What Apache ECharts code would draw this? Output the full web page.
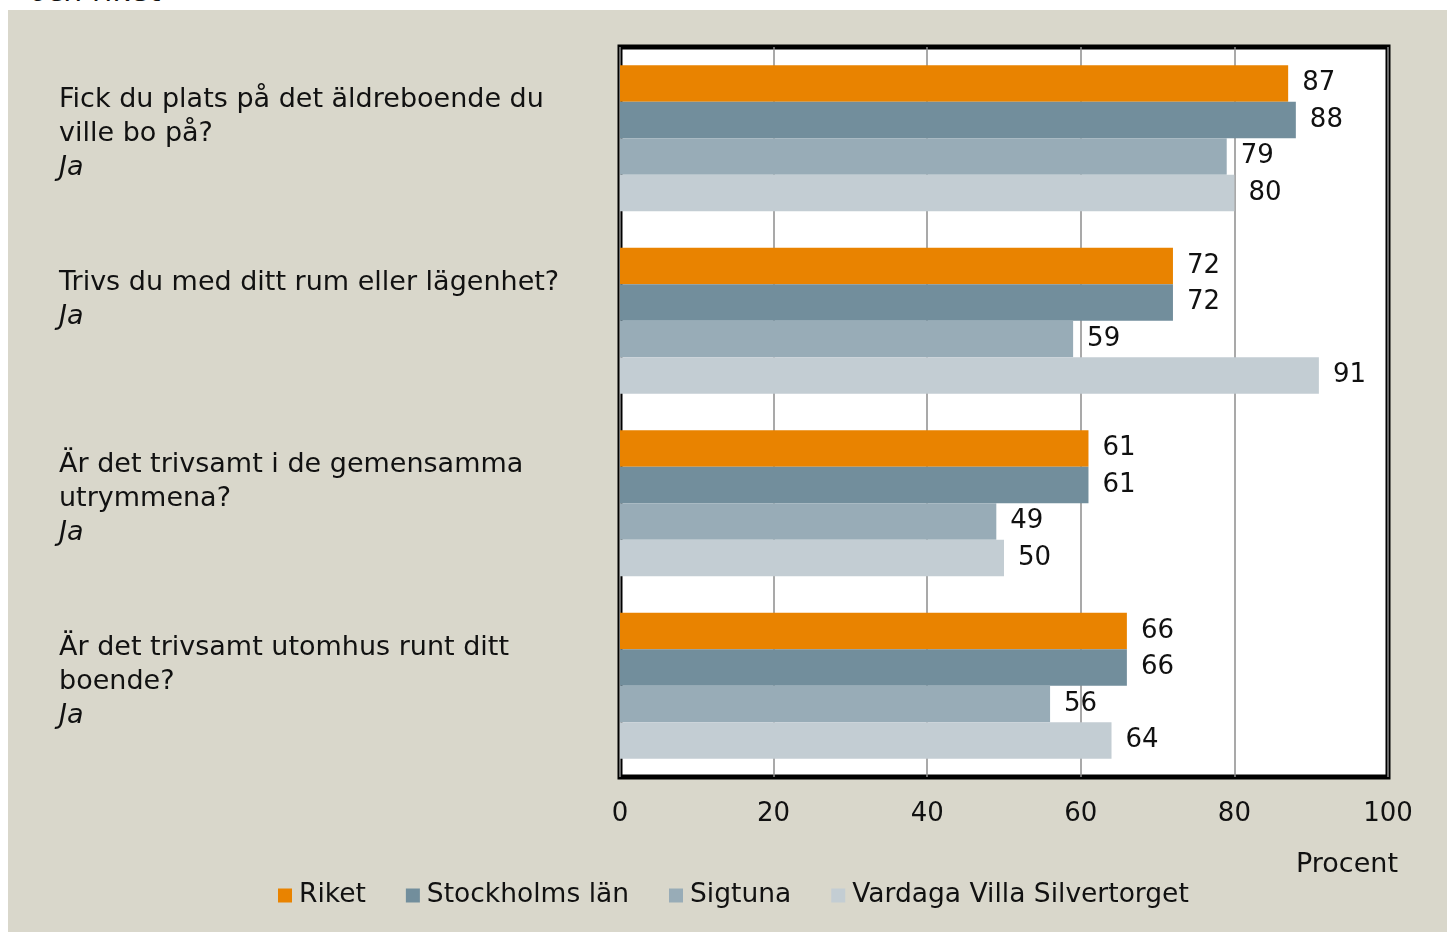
<!DOCTYPE html>
<html>
<head>
<meta charset="utf-8">
<script src="https://cdn.jsdelivr.net/npm/echarts@6/dist/echarts.min.js"></script>
<style>
  html, body { margin: 0; padding: 0; background: #fff; }
  #main { position: absolute; left: 8px; top: 10px; width: 1439px; height: 922px; background: #d9d7cb; }
  #cut { position: absolute; left: 30px; top: -27px; font: italic 30px "DejaVu Sans"; color: #111; }
</style>
</head>
<body>
<div id="cut">och riket</div>
<div id="main"></div>
<script>
var questions = [
    'Fick du plats på det äldreboende du\nville bo på?',
    'Trivs du med ditt rum eller lägenhet?',
    'Är det trivsamt i de gemensamma\nutrymmena?',
    'Är det trivsamt utomhus runt ditt\nboende?'
];
var answer = 'Ja';
var seriesNames = ['Riket', 'Stockholms län', 'Sigtuna', 'Vardaga Villa Silvertorget'];
var riket = [87, 72, 61, 66];
var stockholm = [88, 72, 61, 66];
var sigtuna = [79, 59, 49, 56];
var vardaga = [80, 91, 50, 64];
var colors = ['#e98300', '#728e9c', '#98acb7', '#c3cdd3'];
var values = [riket, stockholm, sigtuna, vardaga];

var myChart = echarts.init(document.getElementById('main'));

var font = 'DejaVu Sans';

var series = seriesNames.map(function (name, i) {
    return {
        name: name,
        type: 'bar',
        data: values[i],
        barGap: 0,
        barCategoryGap: '20%',
        itemStyle: { color: colors[i] },
        label: {
            show: true,
            position: 'right',
            distance: 14,
            color: '#111',
            fontFamily: font,
            fontSize: 26
        }
    };
});

var option = {
    animation: false,
    textStyle: { fontFamily: font },
    grid: {
        left: 612,
        right: 59,
        top: 37,
        bottom: 155,
        show: true,
        backgroundColor: '#fff',
        borderColor: '#000',
        borderWidth: 5,
        z: 0
    },
    legend: {
        left: 265,
        top: 867,
        icon: 'rect',
        itemWidth: 14,
        itemHeight: 14,
        itemGap: 40,
        textStyle: { fontFamily: font, fontSize: 26.5, color: '#111', padding: [0, 0, 0, 2] },
        data: seriesNames
    },
    xAxis: {
        type: 'value',
        min: 0,
        max: 100,
        interval: 20,
        name: 'Procent',
        nameLocation: 'end',
        nameGap: 10,
        nameTextStyle: {
            fontFamily: font, fontSize: 27, color: '#111',
            align: 'right', verticalAlign: 'top', padding: [74, 0, 0, 0]
        },
        axisLine: { show: false },
        axisTick: { show: false },
        axisLabel: { fontFamily: font, fontSize: 26, color: '#111', margin: 24 },
        splitLine: { show: true, lineStyle: { color: '#8c8c8c', width: 1.5 } }
    },
    yAxis: {
        type: 'category',
        inverse: true,
        data: questions.map(function (q) {
            var txt = q + '\n{i|' + answer + '}';
            if (q.indexOf('\n') < 0) txt += '\n ';
            return txt;
        }),
        axisLine: { show: false },
        axisTick: { show: false },
        axisLabel: {
            align: 'left',
            margin: 561,
            fontFamily: font,
            fontSize: 27,
            color: '#111',
            lineHeight: 34,
            padding: [0, 0, 8, 0],
            rich: {
                i: { fontStyle: 'italic', fontFamily: font, fontSize: 27, color: '#111', lineHeight: 34 }
            }
        }
    },
    series: series
};
myChart.setOption(option);
</script>
</body>
</html>
